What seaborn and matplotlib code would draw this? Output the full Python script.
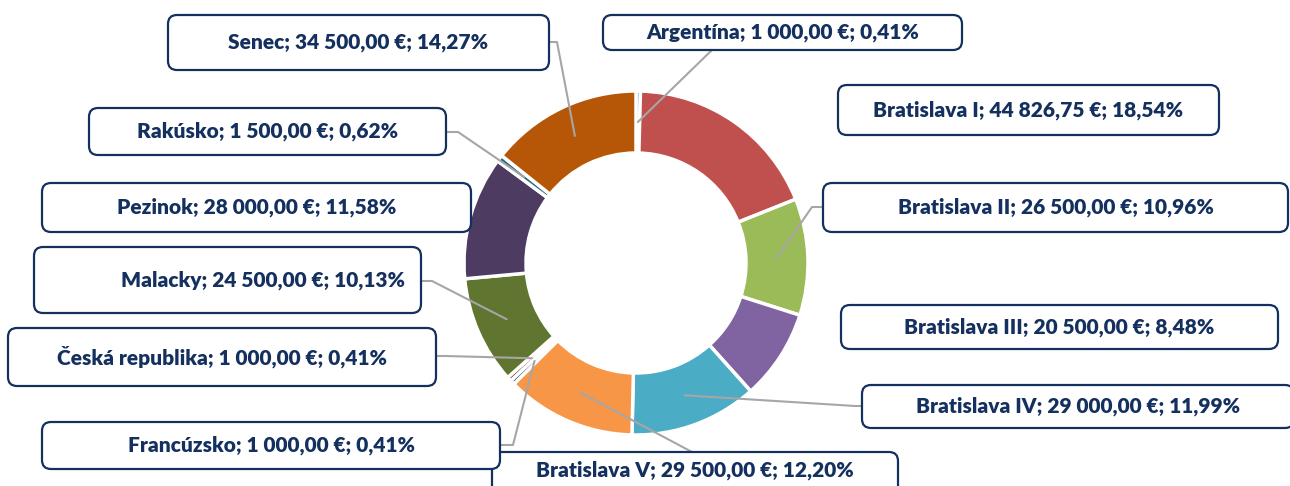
import matplotlib
matplotlib.use('Agg')
import matplotlib.pyplot as plt
from matplotlib.patches import FancyBboxPatch
import numpy as np
import seaborn as sns

# data
regions = ['Argentína', 'Bratislava I', 'Bratislava II', 'Bratislava III', 'Bratislava IV',
           'Bratislava V', 'Francúzsko', 'Česká republika', 'Malacky', 'Pezinok', 'Rakúsko', 'Senec']
amounts = [1000.00, 44826.75, 26500.00, 20500.00, 29000.00,
           29500.00, 1000.00, 1000.00, 24500.00, 28000.00, 1500.00, 34500.00]
colors = ['#4F81BD', '#C0504D', '#9BBB59', '#8064A2', '#4BACC6', '#F79646',
          '#2C4D75', '#772C2A', '#5F7530', '#4D3B62', '#276A7C', '#B65708']

# label box layout in pixels (x0, y0, x1, y1), y going down
boxes = {
    'Argentína': (603, 15, 962, 50),
    'Bratislava I': (838, 85, 1219, 135),
    'Bratislava II': (823, 183, 1288, 232),
    'Bratislava III': (841, 305, 1278, 349),
    'Bratislava IV': (862, 385, 1294, 428),
    'Bratislava V': (492, 452, 898, 498),
    'Francúzsko': (42, 422, 500, 469),
    'Česká republika': (8, 328, 436, 386),
    'Malacky': (34, 247, 421, 313),
    'Pezinok': (42, 183, 471, 232),
    'Rakúsko': (89, 108, 446, 155),
    'Senec': (168, 15, 549, 70),
}
# leader line points from slice outwards to the box
leaders = {
    'Argentína': [(712, 50)],
    'Bratislava II': [(812, 207), (823, 207)],
    'Bratislava IV': [(855, 406), (862, 406)],
    'Bratislava V': [(692, 452)],
    'Francúzsko': [(513, 445), (500, 445)],
    'Česká republika': [(445, 356), (436, 356)],
    'Malacky': [(432, 281), (421, 281)],
    'Rakúsko': [(458, 132), (446, 132)],
    'Senec': [(557, 42), (549, 42)],
}
text_x = {'Malacky': 263}

def fmt(v):
    s = f'{v:,.2f}'.replace(',', ' ').replace('.', ',')
    return s

sns.set_theme(style='white')
plt.rcParams['font.family'] = ['Lato', 'DejaVu Sans']

fig = plt.figure(figsize=(12.9, 4.86), dpi=100)
ax = fig.add_axes([0, 0, 1, 1])

cx, cy, R, W = 636, 263, 172, 62
ax.pie(amounts, colors=colors, startangle=-90, counterclock=True,
       center=(cx, cy), radius=R, frame=True,
       wedgeprops=dict(width=W, edgecolor='white', linewidth=2.5))
ax.set_xlim(0, 1290)
ax.set_ylim(486, 0)
ax.set_aspect('equal')
ax.axis('off')

total = sum(amounts)
cum = 0
navy = '#14305F'
for name, v in zip(regions, amounts):
    mid = (cum + v / 2) / total * 2 * np.pi
    cum += v
    pct = v / total * 100
    label = f'{name}; {fmt(v)} €; {pct:.2f}%'.replace('.', ',')
    x0, y0, x1, y1 = boxes[name]
    if name in leaders:
        r = R - W / 2
        px, py = cx + r * np.sin(mid), cy - r * np.cos(mid)
        pts = [(px, py)] + leaders[name]
        ax.plot([p[0] for p in pts], [p[1] for p in pts], color='#A6A6A6', lw=1.5, zorder=3)
    box = FancyBboxPatch((x0, y0), x1 - x0, y1 - y0,
                         boxstyle='round,pad=0,rounding_size=9',
                         facecolor='white', edgecolor=navy, lw=1.6, zorder=4)
    ax.add_patch(box)
    tx = text_x.get(name, (x0 + x1) / 2)
    ty = (y0 + y1) / 2 if name != 'Bratislava V' else 470
    ax.text(tx, ty, label, ha='center', va='center', fontsize=15,
            fontweight='heavy', color=navy, zorder=5)

plt.savefig('out.png', dpi=100)
